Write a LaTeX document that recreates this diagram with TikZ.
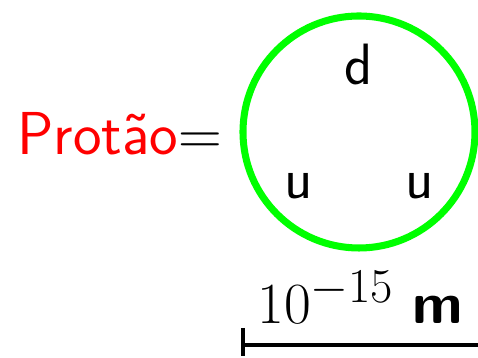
\documentclass[tikz,border=0pt]{standalone}
\begin{document}
\begin{tikzpicture}[
  x=0.015cm, y=-0.015cm,
  every node/.style={font=\Huge\sffamily, inner sep=0pt},
  quark/.style={anchor=base},
  bar/.style={line width=1.8pt}
]
  \useasboundingbox (0,0) rectangle (478,358);
  \node[anchor=base west, scale=1.04] (lbl) at (17,155) {\textcolor{red}{Protão}$=$};
  \node[circle, draw=green, line width=3pt, minimum size=3.48cm] (prot) at (359,132) {};
  \node[quark] (d)  at (359,85)  {d};
  \node[quark] (u1) at (299,199) {u};
  \node[quark] (u2) at (420,199) {u};

  \coordinate (tt) at (243,328);
  \coordinate (tb) at (243,356);
  \coordinate (bl) at (243,345);
  \coordinate (br) at (478,345);
  \draw[bar] (tt) -- (tb);
  \draw[bar] (bl) -- (br);
  \node[anchor=base west] (scl) at (257,324) {$10^{-15}$ \textbf{m}};
\end{tikzpicture}
\end{document}
